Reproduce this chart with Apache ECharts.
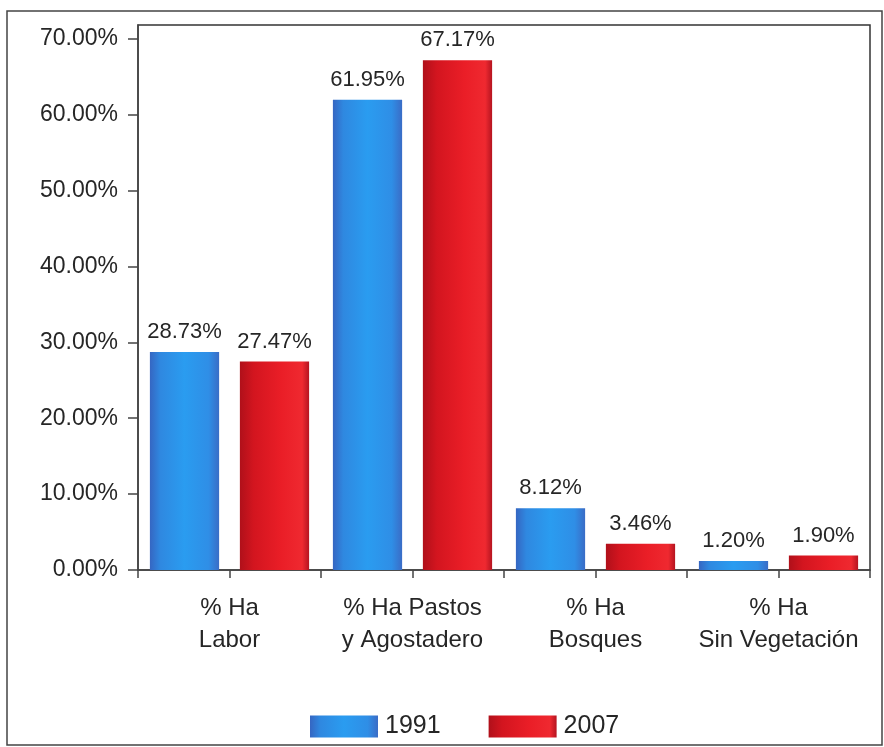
<!DOCTYPE html>
<html>
<head>
	<meta charset="utf-8">
	<title></title>
	<script src="https://cdn.jsdelivr.net/npm/echarts@6/dist/echarts.min.js"></script>
	<style>
		html, body { margin: 0; padding: 0; background: #fff; }
		#chart { width: 884px; height: 747px; }
	</style>
</head>
<body>
	<div id="chart"></div>
	<script>
		// data
		const categories = ['% Ha\nLabor', '% Ha Pastos\ny Agostadero', '% Ha\nBosques', '% Ha\nSin Vegetación'];
		const values1991 = [28.73, 61.95, 8.12, 1.20];
		const values2007 = [27.47, 67.17, 3.46, 1.90];
		const yTicks = [0, 10, 20, 30, 40, 50, 60, 70];

		const font = 'Liberation Sans, Arial, sans-serif';

		// bars have a slight cylinder shading
		const blueFill = new echarts.graphic.LinearGradient(0, 0, 1, 0, [
			{ offset: 0, color: '#3566c2' },
			{ offset: 0.15, color: '#2f88e0' },
			{ offset: 0.5, color: '#2a9cf0' },
			{ offset: 0.85, color: '#2f8ee6' },
			{ offset: 1, color: '#3a6cc6' }
		]);
		const redFill = new echarts.graphic.LinearGradient(0, 0, 1, 0, [
			{ offset: 0, color: '#b0101a' },
			{ offset: 0.2, color: '#d3151f' },
			{ offset: 0.6, color: '#ea1e27' },
			{ offset: 0.9, color: '#ef2930' },
			{ offset: 1, color: '#b51420' }
		]);

		const chart = echarts.init(document.getElementById('chart'));

		const barLabel = {
			show: true,
			position: 'top',
			distance: 9,
			fontFamily: font,
			fontSize: 22,
			color: '#262626',
			formatter: p => p.value.toFixed(2) + '%'
		};

		chart.setOption({
			backgroundColor: '#fff',
			animation: false,
			grid: {
				left: 138,
				right: 14,
				top: 25,
				bottom: 177,
				show: true,
				borderColor: '#333',
				borderWidth: 1.5
			},
			legend: {
				left: 305,
				top: 709,
				itemWidth: 68,
				itemHeight: 22,
				itemGap: 48,
				icon: 'rect',
				textStyle: { fontFamily: font, fontSize: 25, color: '#262626', padding: [0, 0, 0, 2] },
				data: ['1991', '2007']
			},
			xAxis: [
				{
					type: 'category',
					data: categories,
					axisLine: { lineStyle: { color: '#444', width: 1.5 } },
					axisTick: { show: false },
					axisLabel: {
						fontFamily: font,
						fontSize: 24,
						color: '#262626',
						lineHeight: 32,
						margin: 22,
						interval: 0
					}
				},
				{
					// half-category ticks as in the original
					type: 'category',
					position: 'bottom',
					data: categories.flatMap(c => [c + '_a', c + '_b']),
					axisLine: { show: false },
					axisTick: { show: true, interval: 0, length: 8, lineStyle: { color: '#444', width: 1.5 } },
					axisLabel: { show: false, interval: 0 }
				}
			],
			yAxis: {
				type: 'value',
				min: 0,
				max: 71.8,
				interval: 10,
				splitLine: { show: false },
				axisLine: { show: true, lineStyle: { color: '#444', width: 1.5 } },
				axisTick: {
					show: true,
					length: 10,
					customValues: yTicks,
					lineStyle: { color: '#444', width: 1.5 }
				},
				axisLabel: {
					customValues: yTicks,
					fontFamily: font,
					fontSize: 23,
					color: '#262626',
					margin: 20,
					formatter: v => v.toFixed(2) + '%'
				}
			},
			series: [
				{
					name: '1991',
					type: 'bar',
					xAxisIndex: 0,
					data: values1991,
					barGap: '30%',
					barCategoryGap: '13%',
					itemStyle: { color: blueFill },
					label: barLabel
				},
				{
					name: '2007',
					type: 'bar',
					xAxisIndex: 0,
					data: values2007,
					itemStyle: { color: redFill },
					label: barLabel
				}
			],
			graphic: [
				{
					type: 'rect',
					shape: { x: 7, y: 11, width: 875, height: 734 },
					style: { fill: 'none', stroke: '#444', lineWidth: 1.5 },
					silent: true
				}
			]
		});
	</script>
</body>
</html>
